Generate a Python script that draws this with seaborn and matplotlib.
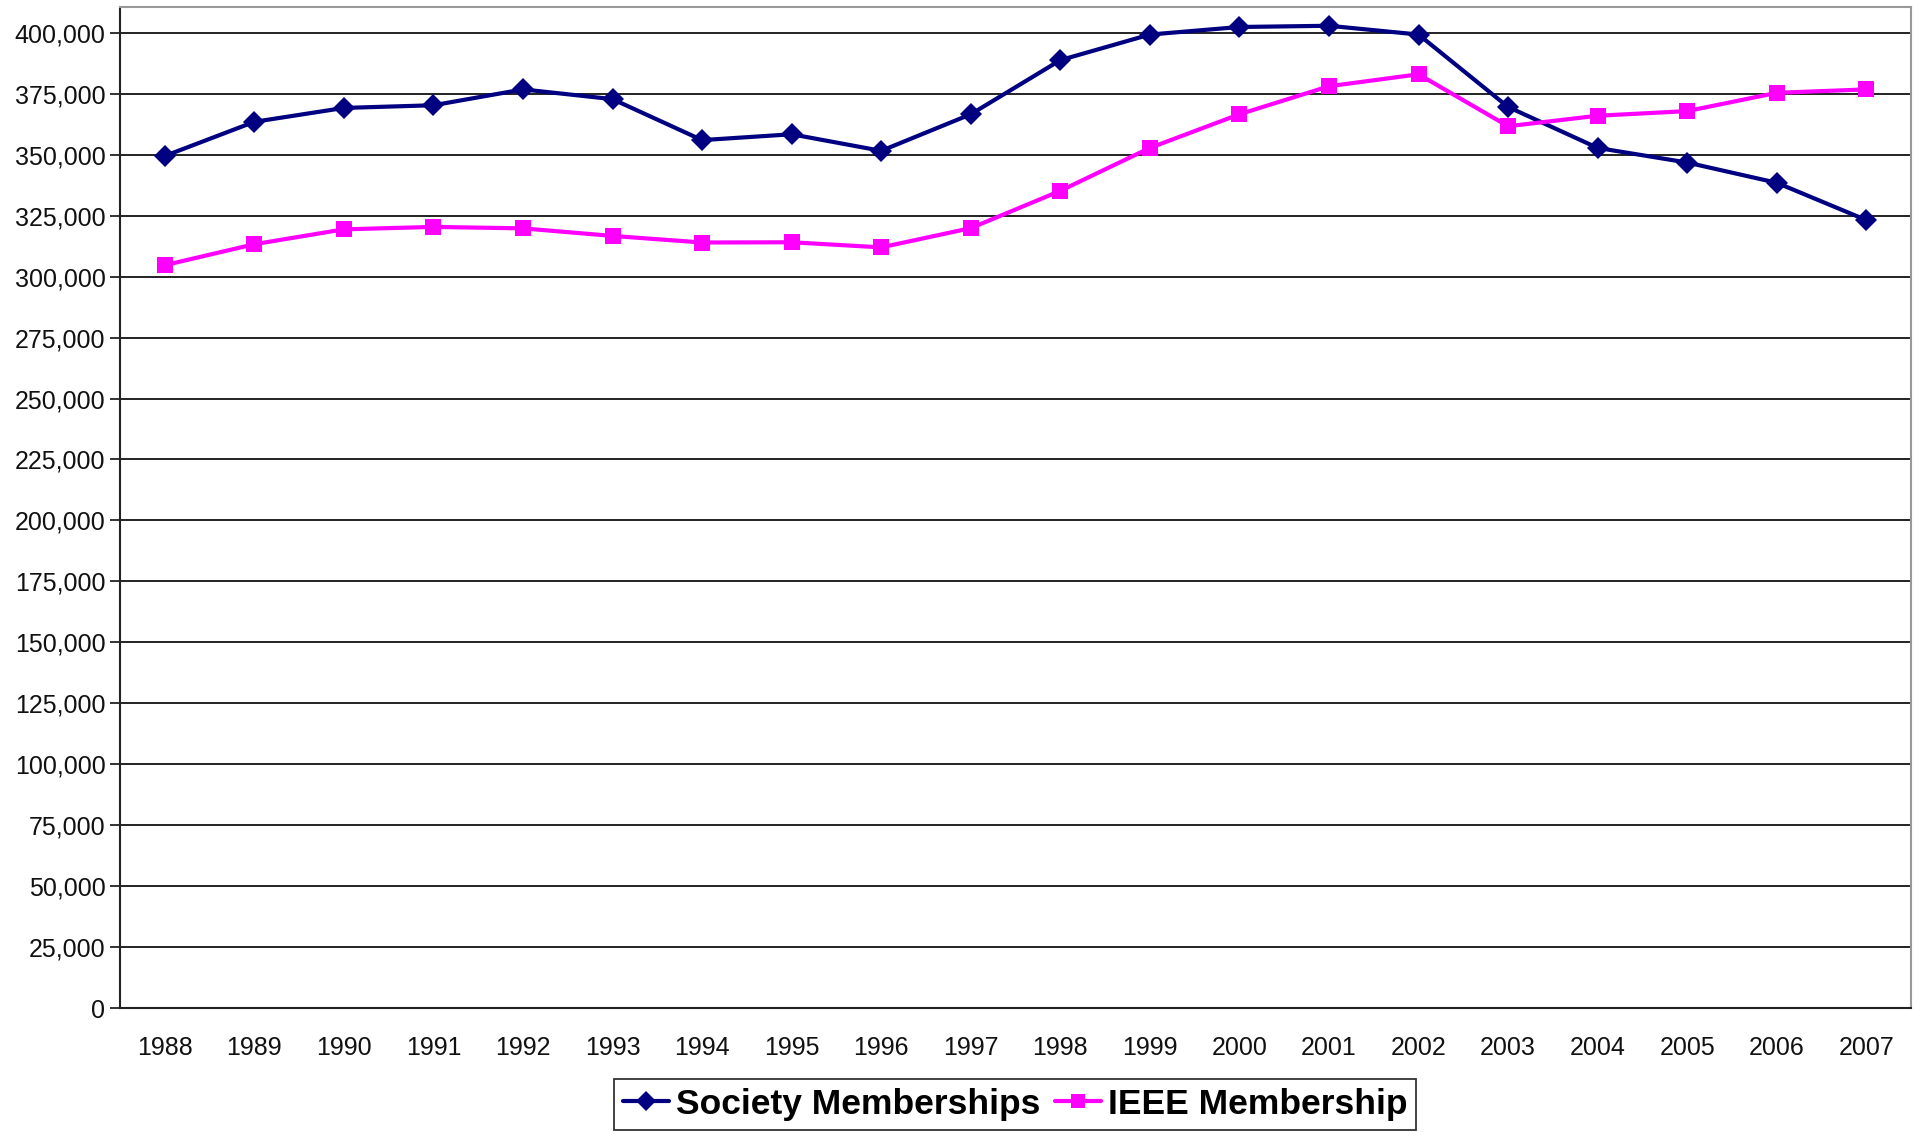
import pandas as pd
import numpy as np
import matplotlib.pyplot as plt
import seaborn as sns
from matplotlib.ticker import FuncFormatter

# data
years = list(range(1988, 2008))
society = [349500, 363500, 369200, 370300, 376800, 372800, 356000, 358400, 351600, 366600,
           388800, 399300, 402400, 402900, 399300, 369600, 352800, 346800, 338500, 323200]
ieee = [304700, 313300, 319400, 320400, 319800, 316700, 314000, 314100, 312000, 319900,
        335200, 352800, 366600, 378100, 383000, 361700, 366000, 367900, 375400, 376800]

series_names = ['Society Memberships', 'IEEE Membership']
colors = {'Society Memberships': '#000080', 'IEEE Membership': '#FF00FF'}
markers = {'Society Memberships': 'D', 'IEEE Membership': 's'}

df = pd.DataFrame({'Year': years, series_names[0]: society, series_names[1]: ieee})
long_df = df.melt(id_vars='Year', var_name='Series', value_name='Members')

sns.set_style('white')
plt.rcParams['font.family'] = ['Liberation Sans', 'DejaVu Sans']
plt.rcParams['text.color'] = 'black'

fig = plt.figure(figsize=(19.23, 11.32), dpi=100)
ax = fig.add_axes([0.0624, 0.1095, 0.9314, 0.8841])

sns.lineplot(
    data=long_df, x='Year', y='Members', hue='Series', style='Series',
    palette=colors, markers=markers, dashes=False, linewidth=3,
    markersize=11, markeredgewidth=0, ax=ax, legend=False
)

ax.set_xlim(1987.5, 2007.5)
ax.set_ylim(0, 410500)
ax.set_yticks(np.arange(0, 400001, 25000))
ax.yaxis.set_major_formatter(FuncFormatter(lambda v, p: f'{int(v):,}'))
ax.yaxis.grid(True, color='#111111', linewidth=1.3)
ax.set_axisbelow(True)

# category labels centred, tick marks between categories
ax.set_xticks(years)
ax.set_xticklabels([str(y) for y in years])
ax.set_xticks(np.arange(1987.5, 2008, 1), minor=True)
ax.tick_params(axis='x', which='major', length=0, pad=20, labelsize=18, colors='#111111')
ax.tick_params(axis='x', which='minor', length=7, width=1.3, color='#222222')
ax.tick_params(axis='y', which='major', length=7, width=1.3, color='#222222',
               labelsize=18, labelcolor='#111111', left=True)
ax.set_xlabel('')
ax.set_ylabel('')

for side in ['left', 'bottom']:
    ax.spines[side].set_color('#222222')
    ax.spines[side].set_linewidth(1.5)
for side in ['top', 'right']:
    ax.spines[side].set_color('#999999')
    ax.spines[side].set_linewidth(1.5)

handles = [plt.Line2D([], [], color=colors[n], marker=markers[n], linewidth=3,
                      markersize=10, markeredgewidth=0) for n in series_names]
leg = fig.legend(handles, series_names, loc='center', bbox_to_anchor=(0.528, 0.0245),
                 ncol=2, frameon=True, fancybox=False, edgecolor='black',
                 prop={'weight': 'bold', 'size': 25.5}, handlelength=1.3,
                 handletextpad=0.2, columnspacing=0.4, borderpad=0.25,
                 borderaxespad=0, labelcolor='black')
leg.get_frame().set_linewidth(1.3)

fig.savefig('out.png', dpi=100)
